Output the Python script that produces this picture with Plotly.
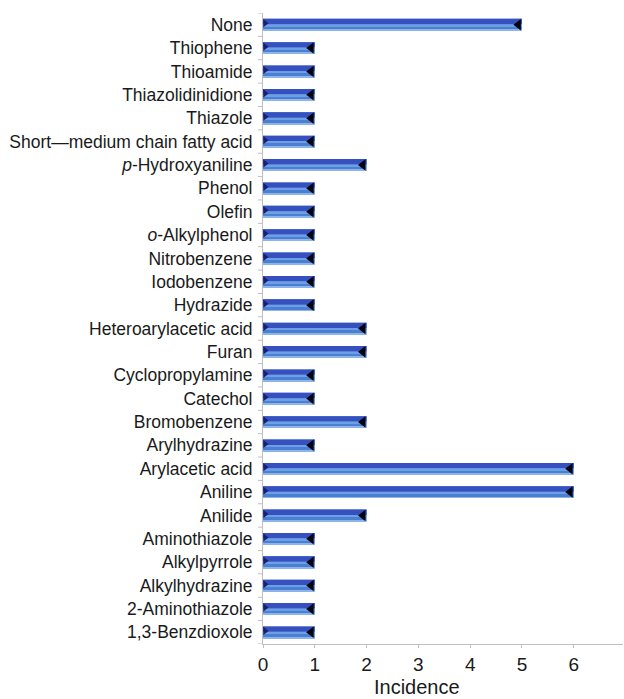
import plotly.graph_objects as go

# Structural alerts and how often each occurs (listed bottom to top)
categories = [
    "1,3-Benzdioxole", "2-Aminothiazole", "Alkylhydrazine", "Alkylpyrrole",
    "Aminothiazole", "Anilide", "Aniline", "Arylacetic acid", "Arylhydrazine",
    "Bromobenzene", "Catechol", "Cyclopropylamine", "Furan",
    "Heteroarylacetic acid", "Hydrazide", "Iodobenzene", "Nitrobenzene",
    "<i>o</i>-Alkylphenol", "Olefin", "Phenol", "<i>p</i>-Hydroxyaniline",
    "Short\u2014medium chain fatty acid", "Thiazole", "Thiazolidinidione",
    "Thioamide", "Thiophene", "None",
]
incidence = [1, 1, 1, 1, 1, 2, 6, 6, 1, 2, 1, 1, 2, 2, 1, 1, 1, 1, 1, 1, 2, 1, 1, 1, 1, 1, 5]
x_ticks = [0, 1, 2, 3, 4, 5, 6]

pos = list(range(len(categories)))
BAR_W = 0.50

fig = go.Figure()

# bevelled bar built from stacked strips: base, dark upper half, light stripe, bottom highlight
layers = [
    dict(offset=-BAR_W / 2, width=BAR_W, color="#4b7fd2"),
    dict(offset=0.02, width=BAR_W / 2 - 0.02, color="#3650c0"),
    dict(offset=-0.06, width=0.08, color="#6c9fe6"),
    dict(offset=-BAR_W / 2, width=0.04, color="#8db4e8"),
]
for ly in layers:
    fig.add_trace(go.Bar(
        y=pos, x=incidence, orientation="h",
        offset=ly["offset"], width=ly["width"],
        marker=dict(color=ly["color"], line=dict(width=0)),
        hoverinfo="skip", showlegend=False,
    ))

# end caps: dark notch at the right end, small navy wedge at the start
fig.add_trace(go.Scatter(
    x=[v - 0.07 for v in incidence], y=pos, mode="markers",
    marker=dict(symbol="triangle-left", size=10, color="#050510", line=dict(width=0)),
    hoverinfo="skip", showlegend=False,
))
fig.add_trace(go.Scatter(
    x=[0.04] * len(pos), y=[p + 0.06 for p in pos], mode="markers",
    marker=dict(symbol="triangle-right", size=7, color="#1a1f6e", line=dict(width=0)),
    hoverinfo="skip", showlegend=False,
))

fig.update_layout(
    width=624, height=699,
    margin=dict(l=263, r=1, t=13, b=55),
    paper_bgcolor="white", plot_bgcolor="white",
    barmode="overlay",
    font=dict(family="Liberation Sans, Arial, sans-serif", color="#1a1a1a"),
    xaxis=dict(
        range=[0, 6.95], tickvals=x_ticks, ticktext=[str(t) for t in x_ticks],
        showgrid=False, zeroline=False,
        showline=True, linecolor="#bfbfbf", linewidth=1,
        ticks="outside", ticklen=3, tickcolor="#bfbfbf",
        tickfont=dict(size=19), ticklabelstandoff=0,
    ),
    yaxis=dict(
        range=[-0.5, len(categories) - 0.5],
        tickvals=pos, ticktext=categories,
        showgrid=False, zeroline=False,
        showline=True, linecolor="#bfbfbf", linewidth=1,
        ticks="", tickfont=dict(size=17.5), ticklabelstandoff=6,
    ),
    annotations=[dict(
        text="Incidence", xref="paper", yref="paper",
        x=(417 - 263) / 360, y=0, yshift=-55, yanchor="bottom",
        showarrow=False, font=dict(size=20), borderpad=0,
    )],
)

# boundary ticks on the category axis
for k in range(len(categories) + 1):
    fig.add_shape(type="line", xref="paper", yref="y",
                  x0=-0.014, x1=0, y0=k - 0.5, y1=k - 0.5,
                  line=dict(color="#bfbfbf", width=1))

fig.write_html("out.html")
